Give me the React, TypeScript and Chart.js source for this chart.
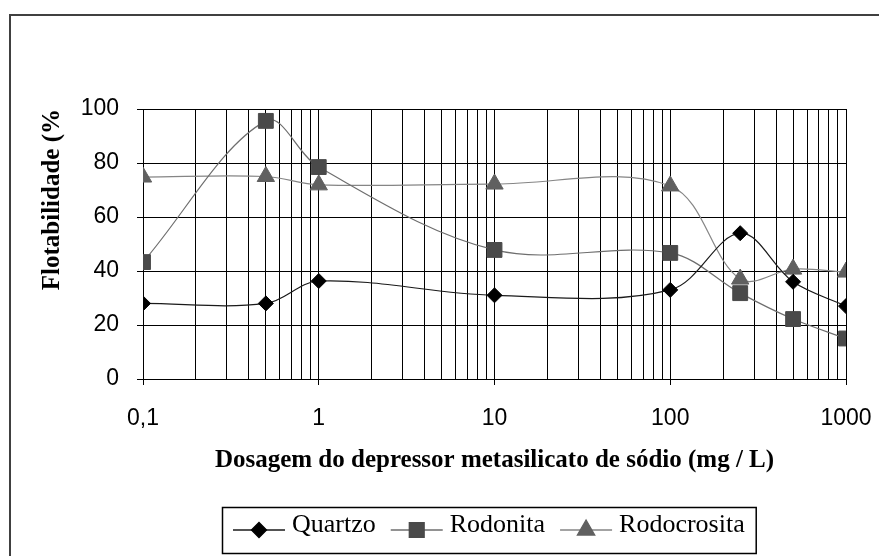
import React, { useEffect, useRef } from 'react';
import { Chart, registerables } from 'chart.js';
import { drawPoint } from 'chart.js/helpers';

Chart.register(...registerables);

// ---- data ----
const doses = [0.1, 0.5, 1, 10, 100, 250, 500, 1000];
const quartzo = [28, 28, 36.3, 31, 33, 54, 36, 27];
const rodonita = [43.3, 95.6, 78.5, 47.8, 46.7, 31.8, 22.2, 15];
const rodocrosita = [74.8, 75, 71.9, 72.2, 71.5, 37, 40.7, 39.6];
const seriesNames = ['Quartzo', 'Rodonita', 'Rodocrosita'];
const xTickValues = [0.1, 1, 10, 100, 1000];
const xTickLabels = ['0,1', '1', '10', '100', '1000'];
const yTickValues = [0, 20, 40, 60, 80, 100];
const xTitle = 'Dosagem do depressor metasilicato de sódio (mg / L)';
const yTitle = 'Flotabilidade (%';

const isDecade = (v: number) => {
  const l = Math.log10(v);
  return Math.abs(l - Math.round(l)) < 1e-9;
};

const buildLogTicks = () => {
  const out: { value: number; major: boolean }[] = [];
  for (let i = 0; i < xTickValues.length - 1; i++) {
    for (let k = 1; k <= 9; k++) {
      const v = Number((xTickValues[i] * k).toPrecision(8));
      out.push({ value: v, major: k === 1 });
    }
  }
  out.push({ value: xTickValues[xTickValues.length - 1], major: true });
  return out;
};

const tickFont = { family: '"Liberation Sans", Arial, sans-serif', size: 23 };
const titleFont = { family: '"Liberation Serif", "Times New Roman", serif', size: 25, weight: 'bold' as const };

const outerBorder = {
  id: 'outerBorder',
  beforeDraw(chart: any) {
    const ctx = chart.ctx;
    ctx.save();
    ctx.fillStyle = '#fff';
    ctx.fillRect(0, 0, chart.width, chart.height);
    ctx.strokeStyle = '#404040';
    ctx.lineWidth = 2;
    ctx.strokeRect(10, 15, chart.width + 20, chart.height + 20);
    ctx.restore();
  },
};

const excelLegend = {
  id: 'excelLegend',
  afterDraw(chart: any) {
    const ctx = chart.ctx;
    ctx.save();
    ctx.font = '26px "Liberation Serif", "Times New Roman", serif';
    const lineLen = 52, gapText = 7, gapItem = 15, padX = 11;
    const dsets = chart.data.datasets;
    const widths = dsets.map((d: any) => ctx.measureText(d.label).width);
    let total = padX * 2 + gapItem * (dsets.length - 1);
    widths.forEach((w: number) => (total += lineLen + gapText + w));
    const left = 222, top = 507, h = 46;
    ctx.fillStyle = '#fff';
    ctx.fillRect(left, top, total, h);
    ctx.strokeStyle = '#000';
    ctx.lineWidth = 1.5;
    ctx.strokeRect(left + 0.5, top + 0.5, total, h);
    let x = left + padX;
    const ly = 530;
    dsets.forEach((d: any, i: number) => {
      ctx.strokeStyle = d.borderColor;
      ctx.lineWidth = 1.3;
      ctx.beginPath();
      ctx.moveTo(x, ly);
      ctx.lineTo(x + lineLen, ly);
      ctx.stroke();
      ctx.fillStyle = d.pointBackgroundColor;
      ctx.strokeStyle = d.pointBorderColor;
      drawPoint(ctx, { pointStyle: d.pointStyle, radius: d.pointRadius, rotation: 0, borderWidth: 1 }, x + lineLen / 2, ly);
      x += lineLen + gapText;
      ctx.fillStyle = '#000';
      ctx.textBaseline = 'alphabetic';
      ctx.textAlign = 'left';
      ctx.fillText(d.label, x, 532);
      x += widths[i] + gapItem;
    });
    ctx.restore();
  },
};

export default function App() {
  const ref = useRef<HTMLCanvasElement>(null);
  useEffect(() => {
    if (!ref.current) return;
    const mk = (vals: number[]) => doses.map((x, i) => ({ x, y: vals[i] }));
    const chart = new Chart(ref.current, {
      type: 'line',
      data: {
        datasets: [
          {
            label: seriesNames[0],
            data: mk(quartzo),
            borderColor: '#1a1a1a',
            pointBackgroundColor: '#000',
            pointBorderColor: '#000',
            pointStyle: 'rectRot',
            pointRadius: 7.5,
          },
          {
            label: seriesNames[1],
            data: mk(rodonita),
            borderColor: '#6e6e6e',
            pointBackgroundColor: '#4a4a4a',
            pointBorderColor: '#4a4a4a',
            pointStyle: 'rect',
            pointRadius: 10.5,
          },
          {
            label: seriesNames[2],
            data: mk(rodocrosita),
            borderColor: '#858585',
            pointBackgroundColor: '#606060',
            pointBorderColor: '#606060',
            pointStyle: 'triangle',
            pointRadius: 10,
          },
        ] as any,
      },
      options: {
        animation: false,
        responsive: false,
        devicePixelRatio: 1,
        layout: { padding: { left: 0, top: 109, right: 33, bottom: 0 } },
        elements: {
          line: { tension: 0.35, borderWidth: 1.2, fill: false },
          point: { borderWidth: 1, hoverRadius: 0 },
        },
        plugins: { legend: { display: false }, tooltip: { enabled: false } },
        scales: {
          x: {
            type: 'logarithmic',
            min: 0.1,
            max: 1000,
            afterBuildTicks: (s: any) => {
              s.ticks = buildLogTicks();
            },
            afterFit: (s: any) => {
              s.height = 177;
              s.paddingLeft = 0;
              s.paddingRight = 0;
            },
            ticks: {
              autoSkip: false,
              maxRotation: 0,
              minRotation: 0,
              padding: 20,
              color: '#000',
              font: tickFont,
              callback: (v: any) => {
                const i = xTickValues.findIndex((t) => Math.abs(Math.log10(t) - Math.log10(Number(v))) < 1e-9);
                return i >= 0 ? xTickLabels[i] : '';
              },
            },
            grid: {
              color: '#000',
              lineWidth: 1,
              tickLength: 6,
              tickColor: (c: any) => (c.tick && isDecade(c.tick.value) ? '#000' : 'rgba(0,0,0,0)'),
            },
            border: { color: '#000', width: 1 },
            title: {
              display: true,
              text: xTitle,
              color: '#000',
              font: titleFont,
              padding: { top: 0, bottom: 80 },
            },
          },
          y: {
            type: 'linear',
            min: 0,
            max: 100,
            afterBuildTicks: (s: any) => {
              s.ticks = yTickValues.map((v) => ({ value: v }));
            },
            afterFit: (s: any) => {
              s.width = 143;
              s.paddingTop = 0;
              s.paddingBottom = 0;
            },
            ticks: { padding: 18, color: '#000', font: tickFont },
            grid: { color: '#000', lineWidth: 1, tickLength: 6, tickColor: '#000' },
            border: { color: '#000', width: 1 },
            title: {
              display: true,
              text: yTitle,
              align: 'end',
              color: '#000',
              font: titleFont,
              padding: { top: 38, bottom: 0 },
            },
          },
        },
      } as any,
      plugins: [outerBorder, excelLegend],
    });
    return () => chart.destroy();
  }, []);
  return (
    <canvas
      ref={ref}
      width={879}
      height={556}
      style={{ position: 'absolute', left: 0, top: 0, display: 'block' }}
    />
  );
}
